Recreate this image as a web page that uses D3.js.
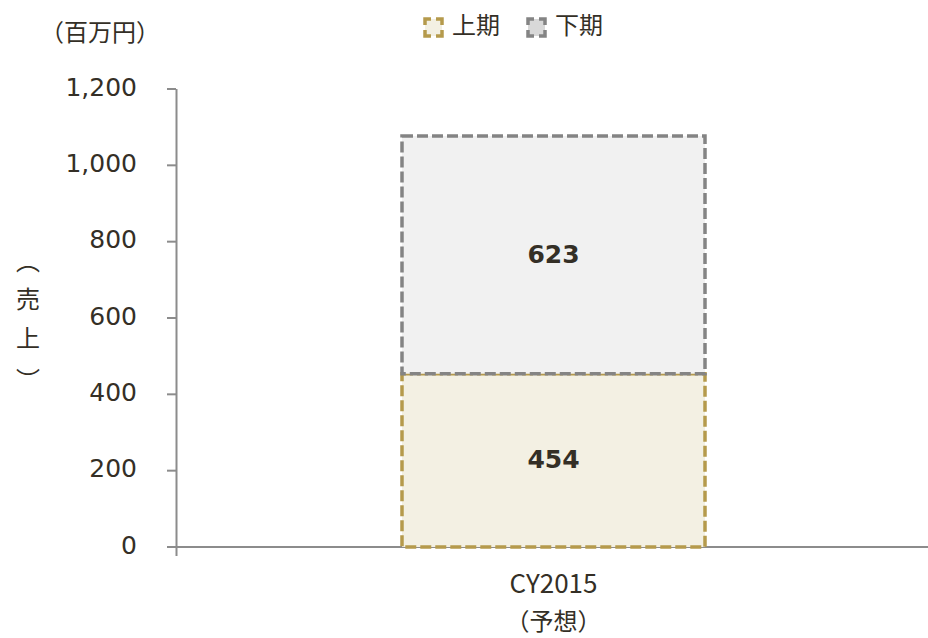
<!DOCTYPE html>
<html>
<head>
<meta charset="utf-8">
<script src="https://cdn.jsdelivr.net/npm/d3@7"></script>
<style>
  body { margin: 0; background: #fff; }
  text { font-family: "Noto Sans CJK JP", "Noto Sans", sans-serif; fill: #342f26; }
  .num { font-family: "DejaVu Sans", "Noto Sans", sans-serif; }
</style>
</head>
<body>
<svg width="928" height="638"></svg>
<script>
var categories = ["CY2015"];
var subLabels = ["（予想）"];
var series = ["上期", "下期"];
var firstHalf = [454];
var secondHalf = [623];
var yTicks = [0, 200, 400, 600, 800, 1000, 1200];

var svg = d3.select("svg");

var fills = ["#f3f0e3", "#f1f1f1"],
    strokes = ["#b59a4c", "#848484"],
    iconFills = ["#f3f0e3", "#d8d8d8"];

var x = d3.scaleBand().domain(categories).range([179, 928]).paddingInner(0.2).paddingOuter(0.3);
var y = d3.scaleLinear().domain([0, 1200]).range([547, 89]);

var rows = categories.map(function(c, i) { return { cat: c, "上期": firstHalf[i], "下期": secondHalf[i] }; });
var stacked = d3.stack().keys(series)(rows);

// axes
var axisColor = "#8c8c8c";
svg.append("line").attr("x1", 176.5).attr("x2", 176.5).attr("y1", y(1200)).attr("y2", 556)
    .attr("stroke", axisColor).attr("stroke-width", 2);
svg.append("g").selectAll("line").data(yTicks).enter().append("line")
    .attr("x1", 167).attr("x2", 176)
    .attr("y1", function(d) { return y(d); }).attr("y2", function(d) { return y(d); })
    .attr("stroke", axisColor).attr("stroke-width", 2);
svg.append("line").attr("x1", 167).attr("x2", 928).attr("y1", y(0)).attr("y2", y(0))
    .attr("stroke", axisColor).attr("stroke-width", 2);

svg.append("g").selectAll("text").data(yTicks).enter().append("text")
    .attr("class", "num")
    .attr("x", 137).attr("y", function(d) { return y(d) - 2; })
    .attr("dy", "0.35em").attr("text-anchor", "end")
    .attr("font-size", 25)
    .text(function(d) { return d3.format(",")(d); });

// bars
var bw = 303;
stacked.forEach(function(layer, k) {
  svg.append("g").selectAll("rect").data(layer).enter().append("rect")
      .attr("x", function(d) { return x(d.data.cat) + x.bandwidth() / 2 - bw / 2; })
      .attr("width", bw)
      .attr("y", function(d) { return y(d[1]); })
      .attr("height", function(d) { return y(d[0]) - y(d[1]); })
      .attr("fill", fills[k])
      .attr("stroke", strokes[k])
      .attr("stroke-width", 3.5)
      .attr("stroke-dasharray", "11,4");
});

// value labels
stacked.forEach(function(layer) {
  svg.append("g").selectAll("text").data(layer).enter().append("text")
      .attr("class", "num")
      .attr("x", function(d) { return x(d.data.cat) + x.bandwidth() / 2; })
      .attr("y", function(d) { return (y(d[0]) + y(d[1])) / 2 - 1; })
      .attr("dy", "0.35em").attr("text-anchor", "middle")
      .attr("font-size", 25).attr("font-weight", "bold")
      .text(function(d) { return d[1] - d[0]; });
});

// category labels
categories.forEach(function(c, i) {
  var cx = x(c) + x.bandwidth() / 2;
  svg.append("text").attr("x", cx).attr("y", 593).attr("text-anchor", "middle")
      .attr("font-size", 26).text(c);
  svg.append("text").attr("x", cx).attr("y", 630).attr("text-anchor", "middle")
      .attr("font-size", 24).text(subLabels[i]);
});

// unit label
svg.append("text").attr("x", 100).attr("y", 41).attr("text-anchor", "middle")
    .attr("font-size", 24).text("（百万円）");

// y-axis title, one glyph per line
var titleChars = ["︵", "売", "上", "︶"],
    titleY = [262, 300, 339, 381];
svg.append("g").selectAll("text").data(titleChars).enter().append("text")
    .attr("x", 28).attr("y", function(d, i) { return titleY[i]; })
    .attr("dy", "0.35em").attr("text-anchor", "middle")
    .attr("font-size", 24)
    .text(function(d) { return d; });

// legend
var legX = [423, 526];
series.forEach(function(s, k) {
  var g = svg.append("g").attr("transform", "translate(" + legX[k] + ",17)");
  g.append("rect").attr("x", 2).attr("y", 2).attr("width", 17).attr("height", 17)
      .attr("fill", iconFills[k])
      .attr("stroke", strokes[k]).attr("stroke-width", 3.5)
      .attr("stroke-dasharray", "6 5 12 5 12 5 12 5 6");
  g.append("text").attr("x", 29).attr("y", 9).attr("dy", "0.35em")
      .attr("font-size", 24).text(s);
});
</script>
</body>
</html>
